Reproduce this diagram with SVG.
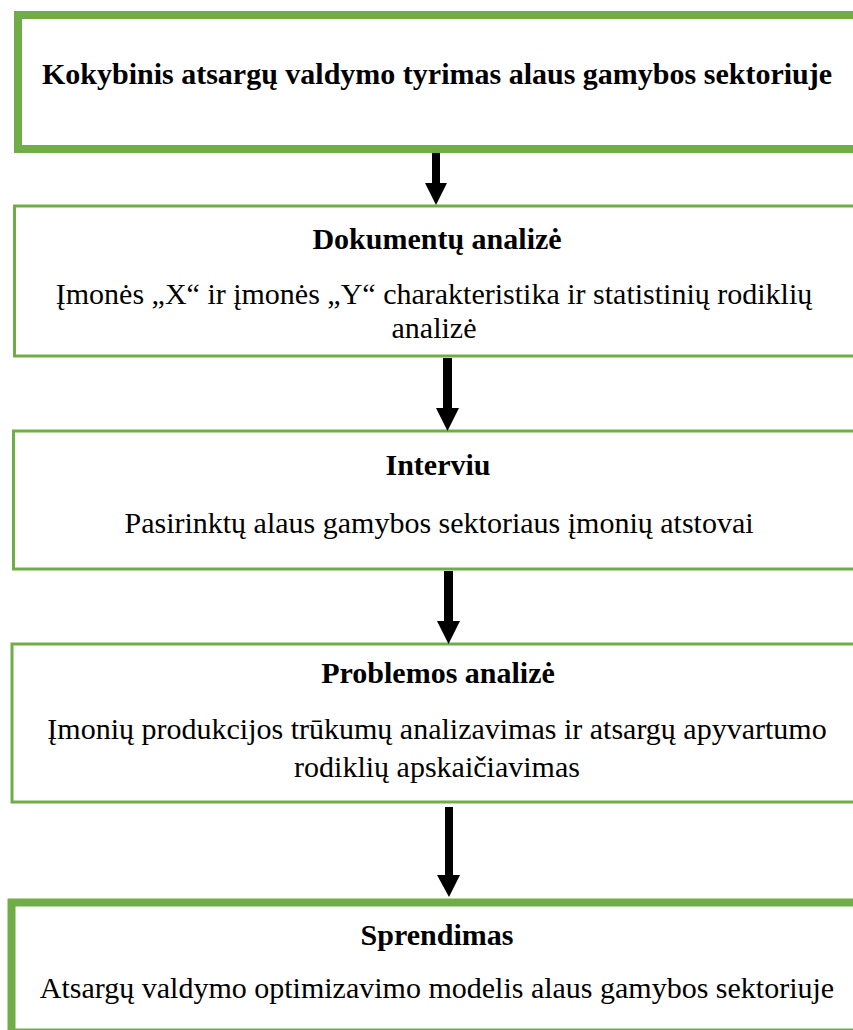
<svg xmlns="http://www.w3.org/2000/svg" width="853" height="1030" viewBox="0 0 853 1030">
<style>
.box{fill:#fff;stroke:#70AD47}
.thick{stroke-width:8}
.thin{stroke-width:3}
text{font-family:"Liberation Serif","Times New Roman",serif;font-size:30px;fill:#000;text-anchor:middle}
.b{font-weight:bold}
.arrow{fill:#000}
</style>
<rect width="853" height="1030" fill="#fff"/>
<g id="node1">
<rect class="box thick" x="18" y="15" width="850" height="134"/>
<text class="b" x="437" y="84">Kokybinis atsargų valdymo tyrimas alaus gamybos sektoriuje</text>
</g>
<g id="node2">
<rect class="box thin" x="14.5" y="206" width="850" height="150"/>
<text class="b" x="437" y="249">Dokumentų analizė</text>
<text x="434" y="304">Įmonės „X“ ir įmonės „Y“ charakteristika ir statistinių rodiklių</text>
<text x="434" y="338">analizė</text>
</g>
<g id="node3">
<rect class="box thin" x="13.5" y="431" width="850" height="138"/>
<text class="b" x="438" y="475">Interviu</text>
<text x="439" y="533">Pasirinktų alaus gamybos sektoriaus įmonių atstovai</text>
</g>
<g id="node4">
<rect class="box thin" x="12" y="644" width="850" height="158"/>
<text class="b" x="438" y="683">Problemos analizė</text>
<text x="437" y="739">Įmonių produkcijos trūkumų analizavimas ir atsargų apyvartumo</text>
<text x="437" y="777">rodiklių apskaičiavimas</text>
</g>
<g id="node5">
<rect class="box thick" x="11.5" y="902.5" width="850" height="130"/>
<text class="b" x="437" y="945">Sprendimas</text>
<text x="437" y="998">Atsargų valdymo optimizavimo modelis alaus gamybos sektoriuje</text>
</g>
<g id="connectors">
<polygon class="arrow" points="432,153 440,153 440,183 447,183 436,205 425,183 432,183"/>
<polygon class="arrow" points="443,358 452,358 452,408 459,408 447.5,431 436,408 443,408"/>
<polygon class="arrow" points="444,571 453,571 453,621 460,621 448.5,644 437,621 444,621"/>
<polygon class="arrow" points="445,807 453,807 453,875 460,875 449,897 437,875 445,875"/>
</g>
</svg>
